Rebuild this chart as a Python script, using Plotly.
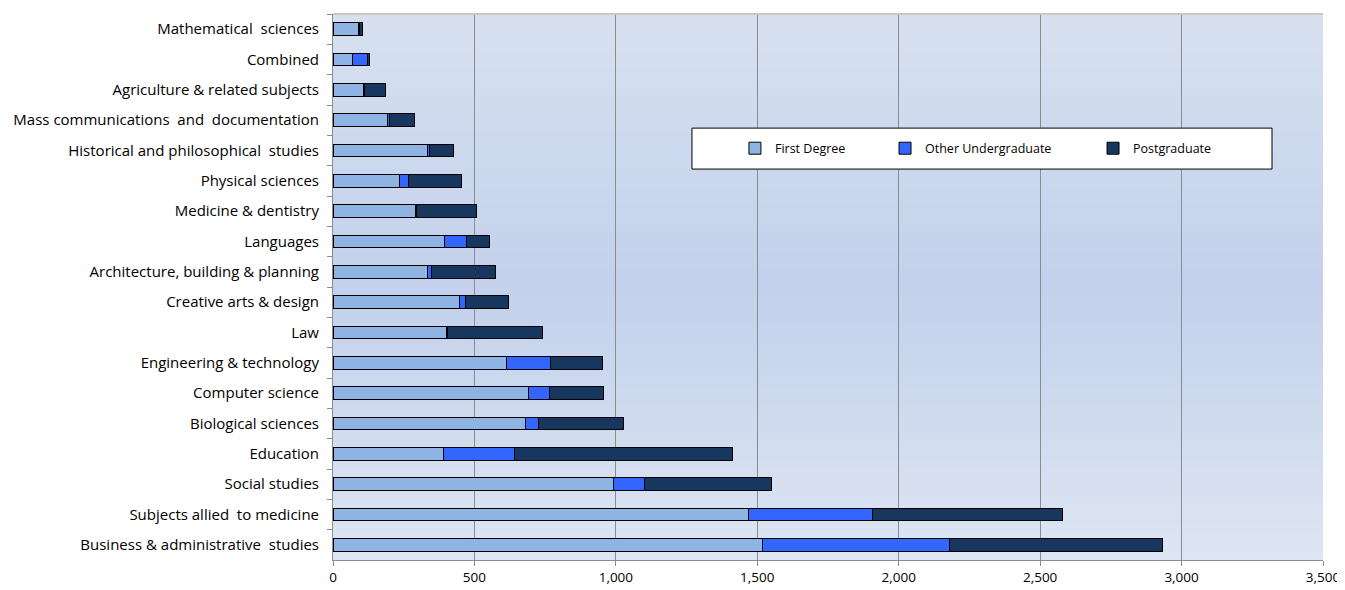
import plotly.graph_objects as go

categories = [
    "Mathematical  sciences",
    "Combined",
    "Agriculture & related subjects",
    "Mass communications  and  documentation",
    "Historical and philosophical  studies",
    "Physical sciences",
    "Medicine & dentistry",
    "Languages",
    "Architecture, building & planning",
    "Creative arts & design",
    "Law",
    "Engineering & technology",
    "Computer science",
    "Biological sciences",
    "Education",
    "Social studies",
    "Subjects allied  to medicine",
    "Business & administrative  studies",
]
first_degree = [91, 70, 108, 191, 334, 235, 291, 394, 333, 446, 400, 614, 691, 680, 390, 993, 1470, 1519]
other_undergrad = [2, 51, 2, 9, 8, 33, 3, 79, 14, 23, 6, 155, 73, 47, 252, 108, 437, 659]
postgraduate = [10, 7, 76, 87, 85, 188, 212, 81, 226, 151, 335, 183, 193, 301, 769, 451, 671, 756]

x_ticks = [0, 500, 1000, 1500, 2000, 2500, 3000, 3500]

FONT = "Open Sans"
fig = go.Figure()
series = [
    ("First Degree", first_degree, "#8eb4e3", "legend"),
    ("Other Undergraduate", other_undergrad, "#3366ff", "legend2"),
    ("Postgraduate", postgraduate, "#17375e", "legend3"),
]
for name, vals, col, lg in series:
    fig.add_trace(go.Bar(
        y=categories, x=vals, name=name, orientation="h",
        marker=dict(color=col, line=dict(color="#000000", width=1)),
        width=0.42, legend=lg, showlegend=True,
    ))

# background gradient
shapes = []
n = 60
top = (215, 225, 240)
mid = (195, 209, 236)
bot = (222, 230, 243)
for i in range(n):
    t = (i + 0.5) / n  # 0 bottom -> 1 top
    if t > 0.5:
        f = (t - 0.5) / 0.5
        c = [int(mid[k] + (top[k] - mid[k]) * f) for k in range(3)]
    else:
        f = (0.5 - t) / 0.5
        c = [int(mid[k] + (bot[k] - mid[k]) * f) for k in range(3)]
    shapes.append(dict(type="rect", xref="paper", yref="paper",
                       x0=0, x1=1, y0=i / n, y1=(i + 1) / n + 0.001,
                       fillcolor="rgb(%d,%d,%d)" % tuple(c), line=dict(width=0), layer="below"))
# top border
shapes.append(dict(type="line", xref="paper", yref="paper", x0=0, x1=1, y0=1, y1=1,
                   line=dict(color="#c8c8c8", width=2), layer="above"))
# legend box
shapes.append(dict(type="rect", xref="paper", yref="paper",
                   x0=0.3626, x1=0.9485, y0=0.716, y1=0.791,
                   fillcolor="white", line=dict(color="black", width=1), layer="above"))
fig.update_layout(shapes=shapes)

leg_common = dict(orientation="h", yanchor="middle", y=0.7535, xanchor="left",
                  bgcolor="rgba(0,0,0,0)", borderwidth=0,
                  font=dict(family=FONT, size=12.5, color="#000"))
fig.update_layout(
    width=1337, height=582,
    margin=dict(l=325, r=22, t=6, b=30, autoexpand=False),
    paper_bgcolor="white",
    plot_bgcolor="#d0dcef",
    barmode="stack",
    showlegend=True,
    font=dict(family=FONT, size=15, color="#000"),
    legend=dict(x=0.406, **leg_common),
    legend2=dict(x=0.5576, **leg_common),
    legend3=dict(x=0.7677, **leg_common),
    xaxis=dict(range=[0, 3500], tickvals=x_ticks, ticktext=[f"{v:,}" for v in x_ticks],
               showgrid=True, gridcolor="#8c8c8c", gridwidth=1,
               showline=True, linecolor="#8c8c8c", linewidth=1,
               ticks="outside", ticklen=5, tickcolor="#8c8c8c",
               tickfont=dict(family=FONT, size=13.5), zeroline=False),
    yaxis=dict(autorange="reversed", categoryorder="array", categoryarray=categories,
               showline=True, linecolor="#8c8c8c", linewidth=1,
               ticks="outside", ticklen=5, tickcolor="#8c8c8c", tickson="boundaries",
               tickfont=dict(family=FONT, size=15), showgrid=False, ticklabelstandoff=10,
               automargin=False),
)
fig.write_html("out.html")
